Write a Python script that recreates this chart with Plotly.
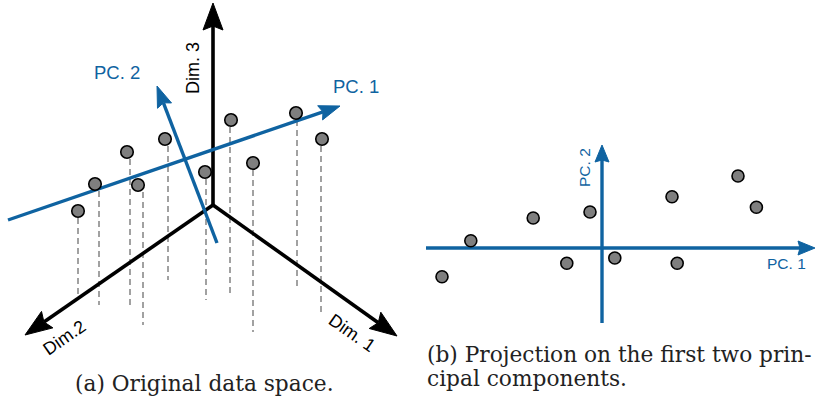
import math
import plotly.graph_objects as go

BLUE = "#0f63a1"
PT_FILL = "#7f7f7f"
DASH_COL = "#8a8a8a"

# ---------- Panel (a): original data space (drawing coordinates, px) ----------
origin = (213, 205)
dim_tips = {"Dim. 1": (397, 336), "Dim.2": (25, 335), "Dim. 3": (213, 3)}
pc1_line = [(8, 220), (340, 106)]
pc2_line = [(217, 243), (157, 86)]

pt_x = [78, 95, 127, 138, 165, 205, 231, 253, 296, 322]
pt_y = [211, 184, 152, 185, 139, 172, 120, 163, 113, 139]
drop_x = [78, 99, 130, 143, 168, 206, 230, 253, 297, 321]
drop_end = [300, 305, 305, 325, 280, 300, 293, 332, 287, 315]

# ---------- Panel (b): projection scores ----------
pc1_score = [-4.0, -3.28, -1.72, -0.88, -0.3, 0.32, 1.75, 1.88, 3.4, 3.86]
pc2_score = [-0.72, 0.18, 0.75, -0.38, 0.9, -0.25, 1.28, -0.38, 1.8, 1.02]
PX_PER_UNIT = 40.0
b_xrange = [-4.4, 5.325]
b_yrange = [-1.875, 2.575]

W, H = 820, 399

fig = go.Figure()


def arrow_head(tip, frm, length, width, notch, sx=1.0, sy=1.0):
    tx, ty = tip[0] * sx, tip[1] * sy
    fx, fy = frm[0] * sx, frm[1] * sy
    dx, dy = tx - fx, ty - fy
    d = math.hypot(dx, dy)
    ux, uy = dx / d, dy / d
    nx, ny = -uy, ux
    bx, by = tx - length * ux, ty - length * uy
    pts = [
        (tx, ty),
        (bx + nx * width / 2, by + ny * width / 2),
        (tx - (length - notch) * ux, ty - (length - notch) * uy),
        (bx - nx * width / 2, by - ny * width / 2),
        (tx, ty),
    ]
    xs = [p[0] / sx for p in pts]
    ys = [p[1] / sy for p in pts]
    shaft_end = ((tx - (length - notch) * ux) / sx, (ty - (length - notch) * uy) / sy)
    return xs, ys, shaft_end


def add_arrow(frm, tip, color, lw, length, width, notch, xaxis="x", yaxis="y", sx=1.0, sy=1.0):
    xs, ys, se = arrow_head(tip, frm, length, width, notch, sx, sy)
    fig.add_trace(go.Scatter(x=[frm[0], se[0]], y=[frm[1], se[1]], mode="lines",
                             line=dict(color=color, width=lw), xaxis=xaxis, yaxis=yaxis,
                             hoverinfo="skip", showlegend=False))
    fig.add_trace(go.Scatter(x=xs, y=ys, mode="lines", fill="toself", fillcolor=color,
                             line=dict(color=color, width=1), xaxis=xaxis, yaxis=yaxis,
                             hoverinfo="skip", showlegend=False))


for x, y0, y1 in zip(drop_x, pt_y, drop_end):
    fig.add_trace(go.Scatter(x=[x, x], y=[y0 + 7, y1], mode="lines",
                             line=dict(color=DASH_COL, width=1.6, dash="6px,4px"),
                             hoverinfo="skip", showlegend=False))

for name, tip in dim_tips.items():
    add_arrow(origin, tip, "black", 3.6, 27, 20, 4)

add_arrow(pc1_line[0], pc1_line[1], BLUE, 3.4, 21, 15, 3)
add_arrow(pc2_line[0], pc2_line[1], BLUE, 3.4, 21, 15, 3)

fig.add_trace(go.Scatter(x=pt_x, y=pt_y, mode="markers",
                         marker=dict(size=12.5, color=PT_FILL, line=dict(color="black", width=1.6)),
                         hoverinfo="skip", showlegend=False))

add_arrow((b_xrange[0], 0), (b_xrange[1], 0), BLUE, 3.4, 17, 14, 2,
          xaxis="x2", yaxis="y2", sx=PX_PER_UNIT, sy=-PX_PER_UNIT)
add_arrow((0, b_yrange[0]), (0, b_yrange[1]), BLUE, 3.4, 17, 14, 2,
          xaxis="x2", yaxis="y2", sx=PX_PER_UNIT, sy=-PX_PER_UNIT)

fig.add_trace(go.Scatter(x=pc1_score, y=pc2_score, mode="markers", xaxis="x2", yaxis="y2",
                         marker=dict(size=12, color=PT_FILL, line=dict(color="black", width=1.6)),
                         hoverinfo="skip", showlegend=False))

SANS = "Liberation Sans"
SERIF = "DejaVu Serif"

annotations = [
    dict(x=193, y=68, text="Dim. 3", textangle=-90, font=dict(size=18, color="black", family=SANS)),
    dict(x=64, y=338, text="Dim.2", textangle=-35, font=dict(size=18, color="black", family=SANS)),
    dict(x=352, y=333, text="Dim. 1", textangle=35, font=dict(size=18, color="black", family=SANS)),
    dict(x=356, y=86, text="PC. 1", font=dict(size=18.5, color=BLUE, family=SANS)),
    dict(x=117, y=72, text="PC. 2", font=dict(size=18.5, color=BLUE, family=SANS)),
    dict(x=584, y=168, text="PC. 2", textangle=-90, font=dict(size=15.5, color=BLUE, family=SANS)),
    dict(x=786, y=263, text="PC. 1", font=dict(size=15.5, color=BLUE, family=SANS)),
    dict(x=204, y=383, text="(a) Original data space.", font=dict(size=21.7, color="#222", family=SERIF)),
    dict(x=425, y=354, text="(b) Projection on the first two prin-", xanchor="left",
         font=dict(size=21.7, color="#222", family=SERIF)),
    dict(x=425, y=378, text="cipal components.", xanchor="left",
         font=dict(size=21.7, color="#222", family=SERIF)),
]
for a in annotations:
    a.setdefault("xanchor", "center")
    a.update(xref="x", yref="y", yanchor="middle", showarrow=False)

ax_common = dict(visible=False, showgrid=False, zeroline=False, fixedrange=True)
fig.update_layout(
    width=W, height=H,
    margin=dict(l=0, r=0, t=0, b=0),
    paper_bgcolor="white", plot_bgcolor="white",
    xaxis=dict(range=[0, W], domain=[0, 1], **ax_common),
    yaxis=dict(range=[H, 0], domain=[0, 1], **ax_common),
    xaxis2=dict(range=b_xrange, domain=[426 / W, 815 / W], anchor="y2", **ax_common),
    yaxis2=dict(range=b_yrange, domain=[1 - 323 / H, 1 - 145 / H], anchor="x2", **ax_common),
    annotations=annotations,
    showlegend=False,
)

fig.write_html("out.html", config={"displayModeBar": False},
               post_script="document.body.style.margin='0px';document.body.style.overflow='hidden';")
